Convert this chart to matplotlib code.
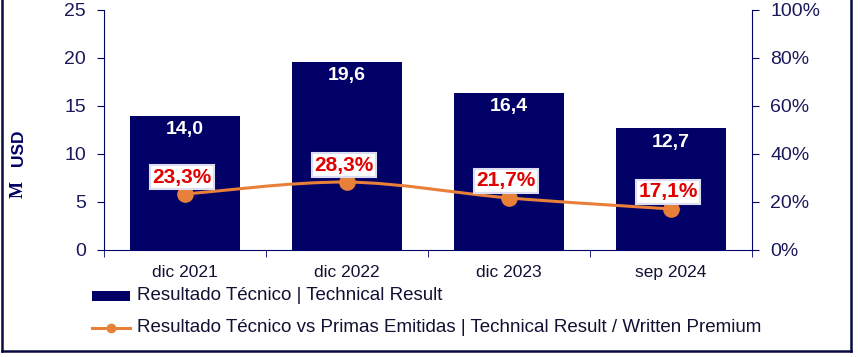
import matplotlib
matplotlib.use("Agg")
import matplotlib.pyplot as plt
import numpy as np
from matplotlib.path import Path
from matplotlib.patches import PathPatch
from matplotlib.lines import Line2D
from matplotlib.patches import Rectangle

categories = ["dic 2021", "dic 2022", "dic 2023", "sep 2024"]
technical_result = [14.0, 19.6, 16.4, 12.7]
ratio_pct = [23.3, 28.3, 21.7, 17.1]
bar_labels = ["14,0", "19,6", "16,4", "12,7"]
pct_labels = ["23,3%", "28,3%", "21,7%", "17,1%"]
left_ticks = [0, 5, 10, 15, 20, 25]
right_ticks = [0, 20, 40, 60, 80, 100]

NAVY = "#000066"
ORANGE = "#E8803A"
TXT = "#1a1a5a"

plt.rcParams["font.family"] = ["Liberation Sans", "DejaVu Sans"]

fig = plt.figure(figsize=(8.6, 3.57), dpi=100)
ax = fig.add_axes([104/860, 1-250/357, (752-104)/860, 240/357])
ax2 = ax.twinx()

x = np.arange(len(categories))
ax.bar(x, technical_result, width=0.68, color=NAVY, zorder=2)
ax.set_xlim(-0.5, len(categories)-0.5)
ax.set_ylim(0, 25)
ax.set_yticks(left_ticks)
ax.set_yticklabels([str(t) for t in left_ticks])
ax.set_xticks(x)
ax.set_xticklabels(categories)
ax.set_xticks(np.arange(-0.5, len(categories)), minor=True)
ax.tick_params(axis="x", which="major", length=0, pad=11, labelsize=12.5, labelcolor="#111133")
ax.tick_params(axis="x", which="minor", length=5, color=NAVY, direction="out")
ax.tick_params(axis="y", length=5, color=NAVY, labelsize=14, labelcolor=TXT, pad=8)

ax.spines["top"].set_visible(False)
ax.spines["right"].set_visible(False)
ax.spines["left"].set_color(NAVY)
ax.spines["bottom"].set_color(NAVY)
ax2.spines["top"].set_visible(False)
ax2.spines["left"].set_visible(False)
ax2.spines["bottom"].set_visible(False)
ax2.spines["right"].set_color(NAVY)

for xi, v, lab in zip(x, technical_result, bar_labels):
    ax.annotate(lab, (xi, v), xytext=(0, -14), textcoords="offset pixels",
                ha="center", va="center", color="white", fontsize=14, fontweight="bold", zorder=5)

ax2.set_ylim(0, 100)
ax2.set_yticks(right_ticks)
ax2.set_yticklabels([f"{t}%" for t in right_ticks])
ax2.tick_params(axis="y", length=5, color=NAVY, labelsize=14, labelcolor=TXT, pad=8)

# smooth line (Catmull-Rom to Bezier)
xs = list(x)
ys = list(ratio_pct)
verts = [(xs[0], ys[0])]
codes = [Path.MOVETO]
n = len(xs)
for i in range(n-1):
    p0 = (xs[max(i-1, 0)], ys[max(i-1, 0)])
    p1 = (xs[i], ys[i])
    p2 = (xs[i+1], ys[i+1])
    p3 = (xs[min(i+2, n-1)], ys[min(i+2, n-1)])
    t = 1/6
    c1 = (p1[0] + (p2[0]-p0[0])*t, p1[1] + (p2[1]-p0[1])*t)
    c2 = (p2[0] - (p3[0]-p1[0])*t, p2[1] - (p3[1]-p1[1])*t)
    verts += [c1, c2, p2]
    codes += [Path.CURVE4]*3
ax2.add_patch(PathPatch(Path(verts, codes), facecolor="none", edgecolor=ORANGE, lw=2.2, zorder=3))
ax2.plot(x, ratio_pct, linestyle="none", marker="o", markersize=11, color=ORANGE, zorder=4)

for xi, v, lab in zip(x, ratio_pct, pct_labels):
    ax2.annotate(lab, (xi, v), xytext=(-3, 17), textcoords="offset pixels",
                 ha="center", va="center", color="#E00000", fontsize=15, fontweight="bold", zorder=6,
                 bbox=dict(boxstyle="square,pad=0.1", facecolor="white", edgecolor="#dcdcf2", lw=1.5))

fig.text(18/860, 1-148/357, "USD", rotation=90, ha="center", va="center",
         color=NAVY, fontsize=12.5, fontweight="bold")
fig.text(18/860, 1-189/357, "M", rotation=90, ha="center", va="center",
         color=NAVY, fontsize=13, fontweight="bold", family=["Liberation Serif", "DejaVu Serif"])

# legend
fig.patches.append(Rectangle((92/860, 1-301/357), 38/860, 10/357, transform=fig.transFigure,
                             facecolor=NAVY, edgecolor="none"))
fig.text(137/860, 1-296/357, "Resultado Técnico | Technical Result", ha="left", va="center",
         fontsize=13.5, color="#111133")
fig.lines.append(Line2D([92/860, 130/860], [1-328/357, 1-328/357], transform=fig.transFigure,
                        color=ORANGE, lw=2.2))
fig.lines.append(Line2D([111/860], [1-328/357], transform=fig.transFigure, marker="o",
                        markersize=6, color=ORANGE))
fig.text(137/860, 1-328/357, "Resultado Técnico vs Primas Emitidas | Technical Result / Written Premium",
         ha="left", va="center", fontsize=13.5, color="#111133")

# border
bc = "#0a0a40"
for xs_, ys_ in [([1.5, 1.5], [0, 351]), ([850.5, 850.5], [0, 351]), ([1.5, 850.5], [351, 351])]:
    fig.lines.append(Line2D([a/860 for a in xs_], [1-b/357 for b in ys_], transform=fig.transFigure,
                            color=bc, lw=1.8))

fig.savefig("out.png", dpi=100)
